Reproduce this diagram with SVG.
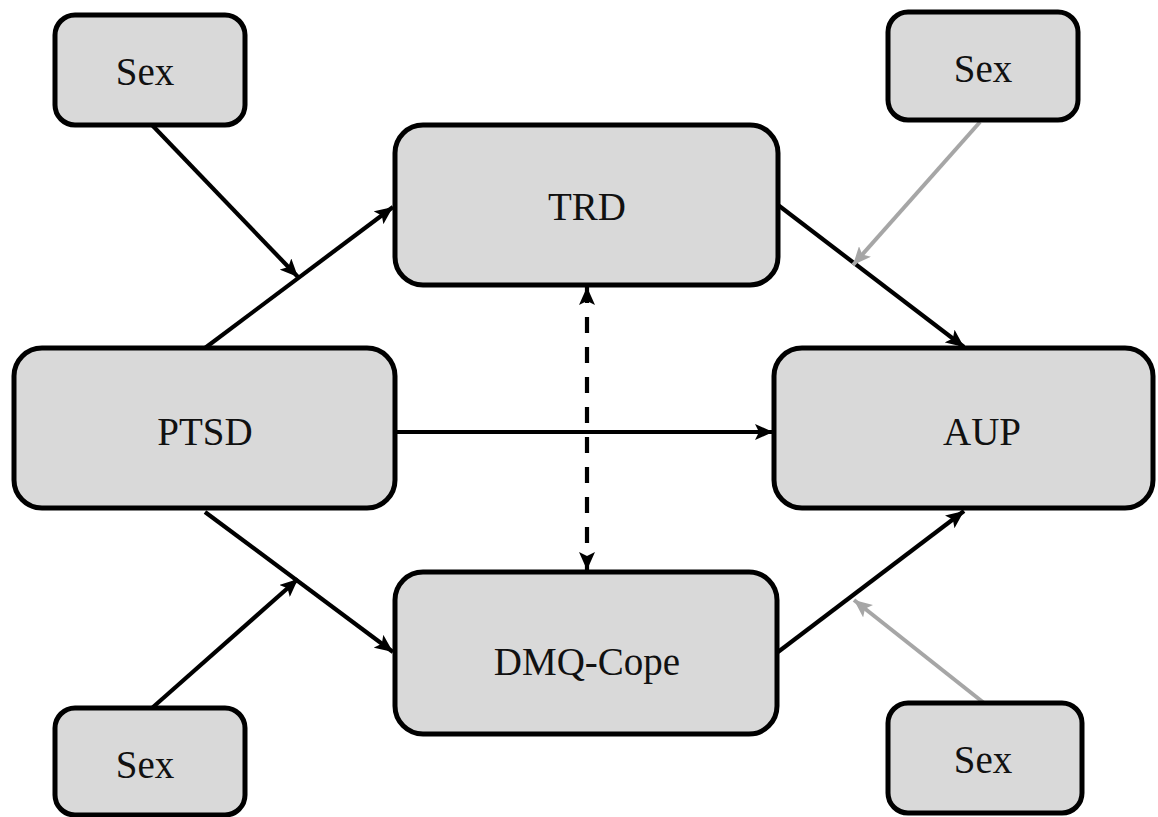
<svg xmlns="http://www.w3.org/2000/svg" width="1158" height="817" viewBox="0 0 1158 817">
<style>
.box{fill:#d9d9d9;stroke:#000;stroke-width:5}
.lbl{font-family:"Liberation Serif","Times New Roman",serif;font-size:39px;fill:#111;text-anchor:middle}
.ln{stroke:#000;stroke-width:4.2;fill:none}
.gr{stroke:#a6a6a6;stroke-width:4;fill:none}
</style>
<defs>
<marker id="ah" markerUnits="userSpaceOnUse" markerWidth="20" markerHeight="16" refX="18" refY="8" orient="auto-start-reverse">
<path d="M0,0 L18,8 L0,16 L4,8 Z" fill="#000"/>
</marker>
<marker id="ahg" markerUnits="userSpaceOnUse" markerWidth="20" markerHeight="16" refX="18" refY="8" orient="auto">
<path d="M0,0 L18,8 L0,16 L4,8 Z" fill="#a6a6a6"/>
</marker>
</defs>
<rect width="1158" height="817" fill="#fff"/>
<g id="connectors">
<line class="ln" x1="152" y1="125" x2="298" y2="277" marker-end="url(#ah)"/>
<line class="ln" x1="205" y1="348" x2="393" y2="207" marker-end="url(#ah)"/>
<line class="ln" x1="778" y1="205" x2="964" y2="347" marker-end="url(#ah)"/>
<line class="gr" x1="980" y1="122" x2="853" y2="265" marker-end="url(#ahg)"/>
<line class="ln" x1="395" y1="432" x2="773" y2="432" marker-end="url(#ah)"/>
<line class="ln" x1="587" y1="287" x2="587" y2="570" stroke-dasharray="16,14" marker-start="url(#ah)" marker-end="url(#ah)"/>
<line class="ln" x1="205" y1="512" x2="393" y2="652" marker-end="url(#ah)"/>
<line class="ln" x1="152" y1="708" x2="298" y2="579" marker-end="url(#ah)"/>
<line class="ln" x1="778" y1="652" x2="964" y2="511" marker-end="url(#ah)"/>
<line class="gr" x1="984" y1="703" x2="854" y2="600" marker-end="url(#ahg)"/>
</g>
<g id="sex-tl"><rect class="box" x="55" y="15" width="190" height="110" rx="20"/><text class="lbl" x="145" y="85">Sex</text></g>
<g id="sex-tr"><rect class="box" x="888" y="12" width="190" height="108" rx="20"/><text class="lbl" x="983" y="82">Sex</text></g>
<g id="trd"><rect class="box" x="395" y="125" width="383" height="160" rx="28"/><text class="lbl" x="587" y="220">TRD</text></g>
<g id="ptsd"><rect class="box" x="14" y="348" width="381" height="160" rx="28"/><text class="lbl" x="205" y="445">PTSD</text></g>
<g id="aup"><rect class="box" x="774" y="348" width="379" height="160" rx="28"/><text class="lbl" x="982" y="445">AUP</text></g>
<g id="dmq"><rect class="box" x="395" y="572" width="382" height="162" rx="28"/><text class="lbl" x="587" y="675">DMQ-Cope</text></g>
<g id="sex-bl"><rect class="box" x="55" y="708" width="190" height="107" rx="20"/><text class="lbl" x="145" y="778">Sex</text></g>
<g id="sex-br"><rect class="box" x="888" y="703" width="194" height="110" rx="20"/><text class="lbl" x="983" y="773">Sex</text></g>
</svg>
